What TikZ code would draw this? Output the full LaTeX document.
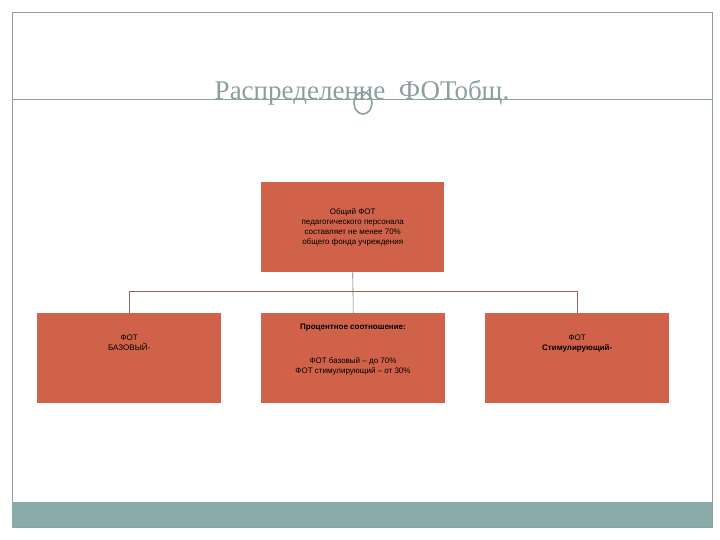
\documentclass[tikz,border=0pt]{standalone}
\usepackage{fontspec}
\setmainfont{Liberation Sans}
\newfontfamily\serifcyr{Liberation Serif}
\definecolor{boxc}{RGB}{208,98,74}
\definecolor{framec}{RGB}{140,160,160}
\definecolor{bandc}{RGB}{139,170,170}
\definecolor{linec}{RGB}{140,105,90}
\begin{document}
\begin{tikzpicture}[x=1pt,y=-1pt,
  orgbox/.style={draw=none,fill=boxc,minimum width=183pt,minimum height=90pt,anchor=north west,inner sep=0pt,align=center,font=\fontsize{8}{10}\selectfont},
  conn/.style={draw=linec,line width=0.6pt}]
\useasboundingbox (0,0) rectangle (720,540);
\fill[white] (0,0) rectangle (720,540);
\draw[framec,line width=0.8pt] (12,12) rectangle (712,527);
\fill[bandc] (12,502) rectangle (712,527);
\draw[framec,line width=0.8pt] (12,99) -- (712,99);
\node[text=framec,font=\serifcyr\fontsize{27}{30}\selectfont,anchor=base] (title) at (362,100) {Распределение\ \ ФОТобщ.};
\draw[framec,line width=1.6pt,fill=white,fill opacity=0] (363,103) ellipse (9 and 11);
\node[orgbox] (top) at (261,182) {Общий ФОТ\\педагогического персонала\\составляет не менее 70\%\\общего фонда учреждения};
\node[orgbox,minimum width=184pt] (left) at (37,313) {ФОТ\\БАЗОВЫЙ-\\[20pt]};
\node[orgbox,minimum width=184pt] (mid) at (261,313) {};
\node[font=\bfseries\fontsize{8}{10}\selectfont] (midh) at (353,328) {Процентное соотношение:};
\node[align=center,font=\fontsize{8}{10}\selectfont] (midt) at (353,366) {ФОТ базовый – до 70\%\\ФОТ стимулирующий – от 30\%};
\node[orgbox,minimum width=184pt] (right) at (485,313) {ФОТ\\\textbf{Стимулирующий-}\\[20pt]};
\coordinate (j) at (353,291);
\draw[conn] (top.south) -- (j);
\draw[conn] (left.north) -- (left.north |- j) -- (right.north |- j) -- (right.north);
\draw[conn] (j) -- (mid.north);
\end{tikzpicture}
\end{document}
